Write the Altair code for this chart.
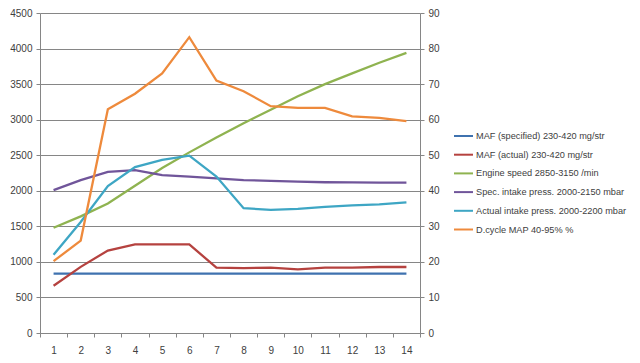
import altair as alt
import pandas as pd

categories = list(range(1, 14 + 1))

series_names = [
    "MAF (specified) 230-420  mg/str",
    "MAF (actual)  230-420  mg/str",
    "Engine speed 2850-3150  /min",
    "Spec. intake press. 2000-2150  mbar",
    "Actual intake press. 2000-2200  mbar",
    "D.cycle MAP 40-95% %",
]
colors = ["#3F72AF", "#B5423F", "#8FB350", "#70559A", "#3EA6C4", "#EE8A3C"]

maf_spec = [835, 835, 835, 835, 835, 835, 835, 835, 835, 835, 835, 835, 835, 835]
maf_actual = [665, 930, 1160, 1245, 1245, 1245, 920, 912, 920, 895, 918, 920, 928, 928]
engine_speed = [1480, 1640, 1820, 2070, 2320, 2540, 2750, 2950, 3140, 3330, 3500, 3650, 3800, 3940]
spec_intake = [2010, 2150, 2265, 2290, 2220, 2200, 2175, 2150, 2140, 2130, 2120, 2118, 2115, 2115]
actual_intake = [1100, 1560, 2066, 2333, 2435, 2494, 2200, 1755, 1732, 1745, 1775, 1795, 1808, 1838]
dcycle_map = [20.2, 26.0, 62.9, 67.3, 73.0, 83.2, 71.0, 68.0, 63.8, 63.3, 63.3, 60.9, 60.5, 59.6]

left_series = [maf_spec, maf_actual, engine_speed, spec_intake, actual_intake]

rows = []
for name, vals in zip(series_names[:5], left_series):
    for c, v in zip(categories, vals):
        rows.append({"x": str(c), "value": v, "series": name})
left_df = pd.DataFrame(rows)
right_df = pd.DataFrame({"x": [str(c) for c in categories], "value": dcycle_map, "series": series_names[5]})

font = "Liberation Sans"
grey = "#868686"
label_col = "#404040"

color = alt.Color(
    "series:N",
    scale=alt.Scale(domain=series_names, range=colors),
    legend=alt.Legend(
        title=None,
        orient="none",
        legendX=413,
        legendY=112.5,
        symbolType="stroke",
        symbolSize=360,
        symbolStrokeWidth=2,
        labelFont=font,
        labelFontSize=9.2,
        labelColor=label_col,
        labelOffset=2,
        rowPadding=2.7,
        labelLimit=250,
    ),
)

xenc = alt.X(
    "x:N",
    sort=[str(c) for c in categories],
    scale=alt.Scale(paddingInner=0, paddingOuter=0),
    axis=alt.Axis(
        title=None,
        labelAngle=0,
        tickBand="extent",
        tickSize=4,
        tickColor=grey,
        domainColor=grey,
        labelPadding=8,
        labelFont=font,
        labelFontSize=10,
        labelColor=label_col,
        grid=False,
    ),
)

left = alt.Chart(left_df).mark_line(strokeWidth=2.3).encode(
    x=xenc,
    y=alt.Y(
        "value:Q",
        scale=alt.Scale(domain=[0, 4500], nice=False),
        axis=alt.Axis(
            title=None,
            values=list(range(0, 4501, 500)),
            format="d",
            grid=True,
            gridColor=grey,
            gridWidth=1,
            tickSize=4,
            tickColor=grey,
            domainColor=grey,
            labelPadding=4,
            labelFont=font,
            labelFontSize=10,
            labelColor=label_col,
        ),
    ),
    color=color,
    detail="series:N",
)

right = alt.Chart(right_df).mark_line(strokeWidth=2.3).encode(
    x=xenc,
    y=alt.Y(
        "value:Q",
        scale=alt.Scale(domain=[0, 90], nice=False),
        axis=alt.Axis(
            title=None,
            orient="right",
            values=list(range(0, 91, 10)),
            format="d",
            grid=False,
            tickSize=4,
            tickColor=grey,
            domainColor=grey,
            labelPadding=4,
            labelFont=font,
            labelFontSize=10,
            labelColor=label_col,
        ),
    ),
    color=color,
)

chart = (
    alt.layer(left, right)
    .resolve_scale(y="independent")
    .properties(
        width=380,
        height=320,
        autosize=alt.AutoSizeParams(type="none"),
        padding={"left": 32, "top": 5, "right": 212, "bottom": 22},
        background="white",
    )
    .configure_view(stroke=None)
)

chart.save("out.html", embed_options={"renderer": "svg", "actions": False})
